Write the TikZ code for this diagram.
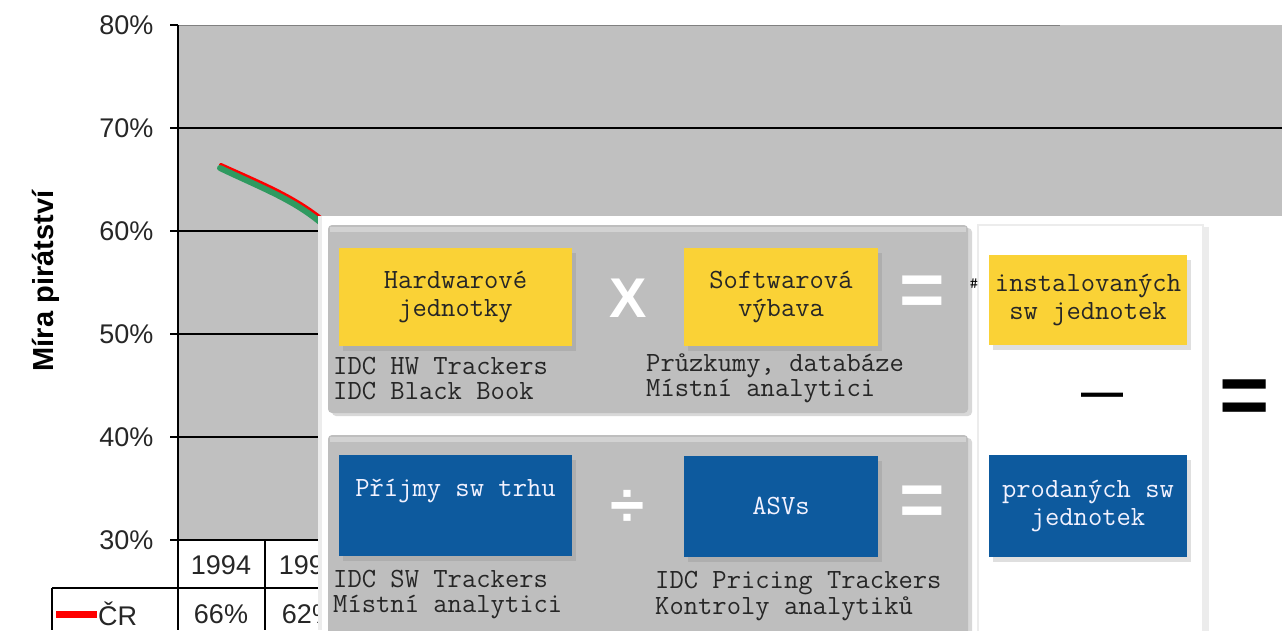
\documentclass[tikz,border=0pt]{standalone}
\usepackage{fontspec}
\setmainfont{Liberation Sans}
\usetikzlibrary{shadows, calc}

\definecolor{chartgray}{HTML}{C0C0C0}
\definecolor{panelgray}{HTML}{BEBEBE}
\definecolor{boxyellow}{HTML}{FAD236}
\definecolor{boxblue}{HTML}{0D5A9E}
\definecolor{curvegreen}{HTML}{2F9A60}

\tikzset{
  axislabel/.style={font=\fontsize{27}{30}\selectfont, text=black!85},
  srctext/.style={font=\ttfamily\fontsize{27.8}{25.5}\selectfont, align=left, anchor=west, text=black!85, inner sep=0},
  yellowbox/.style={fill=boxyellow, minimum height=98, font=\ttfamily\fontsize{27.8}{28}\selectfont, align=center, text=black!85,
    drop shadow={shadow xshift=4pt, shadow yshift=-5pt, opacity=0.25}},
  bluebox/.style={fill=boxblue, minimum height=101, font=\ttfamily\fontsize{27.8}{28}\selectfont, align=center, text=blue!5,
    drop shadow={shadow xshift=4pt, shadow yshift=-5pt, opacity=0.25}},
  opsign/.style={font=\bfseries\fontsize{#1}{#1}\selectfont, text=white, inner sep=0},
  panel/.style={fill=panelgray, rounded corners=4, drop shadow={shadow xshift=4pt, shadow yshift=-3pt, opacity=0.3}}
}

\begin{document}
\begin{tikzpicture}[x=1pt, y=-1pt]
\useasboundingbox (0,0) rectangle (1282,630);
\clip (0,0) rectangle (1282,630);
\fill[chartgray] (178,25) rectangle (1282,540);
\draw[gray] (178,25) -- (1060,25);
\foreach \y in {128,231,334,437} \draw[line width=1.5] (178,\y) -- (1282,\y);
\foreach \y/\p in {25/80,128/70,231/60,334/50,437/40,540/30} {
  \draw[line width=1.5] (170,\y) -- (178,\y);
  \node[axislabel, anchor=east] (lab\p) at (157,\y) {\p\%};
}
\draw[line width=1.5] (178,25) -- (178,630);
\node[rotate=90, font=\bfseries\fontsize{29}{30}\selectfont] (ytitle) at (46,281) {Míra pirátství};
\draw[line width=1.5] (170,540) -- (320,540);
\draw[line width=1.5] (52,588) -- (320,588);
\draw[line width=1.5] (52,588) -- (52,630);
\draw[line width=1.5] (265,540) -- (265,630);
\node[axislabel] (y1994) at (221,565) {1994};
\node[axislabel] (y1995) at (309,565) {1995};
\draw[red, line width=7] (56,614) -- (97,614);
\node[axislabel, anchor=west, inner sep=1] (cr) at (97,614) {ČR};
\node[axislabel] (v1994) at (221,614) {66\%};
\node[axislabel] (v1995) at (309,614) {62\%};
\draw[red, line width=4, line cap=round] (221,165) .. controls (263,184) and (293,196) .. (322,219);
\draw[curvegreen, line width=6, line cap=round] (220,168) .. controls (262,188) and (292,199) .. (320,222);

\fill[white] (318,216) rectangle (1282,630);
\fill[gray!15] (318,216) rectangle (322,630);
\fill[panel] (328,225) rectangle (968,413);
\fill[panel] (328,435) rectangle (968,650);
\fill[gray!35] (330,227) rectangle (966,232);
\fill[gray!35] (330,437) rectangle (966,442);
\draw[gray!15, line width=2, fill=white, drop shadow={shadow xshift=6pt, shadow yshift=-2pt, opacity=0.15}] (978,225) rectangle (1203,650);

\node[yellowbox, minimum width=233] (hw) at (455.5,297) {Hardwarové\\jednotky};
\node[opsign=56] (times) at (628,298) {X};
\node[yellowbox, minimum width=194] (sw) at (781,297) {Softwarová\\výbava};
\node[opsign=78] (eqa) at (922,296) {=};
\node[font=\ttfamily\fontsize{16}{16}\selectfont, inner sep=0] (hash) at (974,284) {\#};
\node[yellowbox, minimum width=198, minimum height=90] (inst) at (1088,300) {instalovaných\\sw jednotek};
\node[srctext] (hwsrc) at (333,378.5) {IDC HW Trackers\\IDC Black Book};
\node[srctext] (swsrc) at (646,378.5) {Průzkumy, databáze\\Místní analytici};
\node[font=\bfseries\fontsize{42}{42}\selectfont, inner sep=0] (minus) at (1102,400) {—};
\node[opsign=86, text=black] (eqc) at (1245,402) {=};

\node[bluebox, minimum width=233] (rev) at (455.5,505.5) {Příjmy sw trhu\\\strut};
\node[opsign=62] (divide) at (628,508) {÷};
\node[bluebox, minimum width=194] (asv) at (781,506) {ASVs};
\node[opsign=78] (eqb) at (922,506) {=};
\node[bluebox, minimum width=198, minimum height=102] (sold) at (1088,506) {prodaných sw\\jednotek};
\node[srctext] (revsrc) at (333,594.5) {IDC SW Trackers\\Místní analytici};
\node[srctext] (asvsrc) at (655,596) {IDC Pricing Trackers\\Kontroly analytiků};
\end{tikzpicture}
\end{document}
